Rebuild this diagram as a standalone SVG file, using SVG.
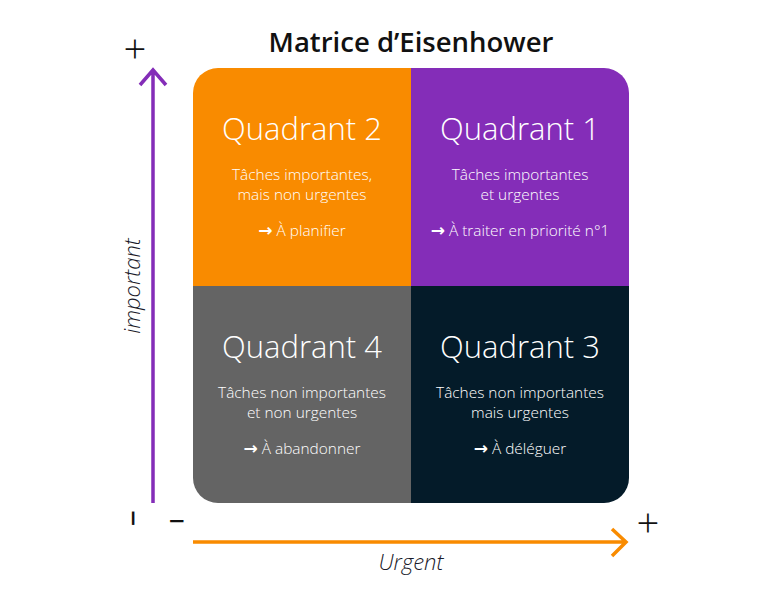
<svg xmlns="http://www.w3.org/2000/svg" width="768" height="605" viewBox="0 0 768 605">
<defs>
<style>
.t{font-family:"Open Sans","Liberation Sans",sans-serif;fill:#fff;text-anchor:middle}
.q{font-size:31px;font-weight:300}
.b{font-size:15.4px;font-weight:300}
.ar{font-family:"DejaVu Sans",sans-serif;font-weight:bold;font-size:17px}
.ax{font-family:"Open Sans","Liberation Sans",sans-serif;font-style:italic;font-size:22px;font-weight:300;fill:#1a1a2a;text-anchor:middle}
.sign{font-family:"Open Sans","Liberation Sans",sans-serif;font-size:40px;fill:#111;text-anchor:middle;font-weight:300}
.mn{font-family:"Open Sans","Liberation Sans",sans-serif;font-size:28px;fill:#111;text-anchor:middle;font-weight:600}
</style>
<clipPath id="m"><rect x="193" y="68" width="436" height="435" rx="25"/></clipPath>
</defs>
<rect width="768" height="605" fill="#fff"/>
<text x="411" y="52" font-family="'Open Sans','Liberation Sans',sans-serif" font-size="27.5" font-weight="600" fill="#111" text-anchor="middle">Matrice d’Eisenhower</text>
<g clip-path="url(#m)">
<g id="q2"><rect x="193" y="68" width="218" height="218" fill="#F98B00"/>
<text class="t q" x="302" y="140">Quadrant 2</text>
<text class="t b" x="302" y="180">Tâches importantes,</text>
<text class="t b" x="302" y="200">mais non urgentes</text>
<text class="t b" x="302" y="236"><tspan class="ar">→</tspan> À planifier</text></g>
<g id="q1"><rect x="411" y="68" width="218" height="218" fill="#842DB8"/>
<text class="t q" x="520" y="140">Quadrant 1</text>
<text class="t b" x="520" y="180">Tâches importantes</text>
<text class="t b" x="520" y="200">et urgentes</text>
<text class="t b" x="520" y="236"><tspan class="ar">→</tspan> À traiter en priorité n°1</text></g>
<g id="q4"><rect x="193" y="286" width="218" height="217" fill="#646464"/>
<text class="t q" x="302" y="358">Quadrant 4</text>
<text class="t b" x="302" y="398">Tâches non importantes</text>
<text class="t b" x="302" y="418">et non urgentes</text>
<text class="t b" x="302" y="454"><tspan class="ar">→</tspan> À abandonner</text></g>
<g id="q3"><rect x="411" y="286" width="218" height="217" fill="#041B29"/>
<text class="t q" x="520" y="358">Quadrant 3</text>
<text class="t b" x="520" y="398">Tâches non importantes</text>
<text class="t b" x="520" y="418">mais urgentes</text>
<text class="t b" x="520" y="454"><tspan class="ar">→</tspan> À déléguer</text></g>
</g>
<g id="connectors" fill="none" stroke-width="3.5">
<path d="M153 503 V70 M140 85 L153 70 L166 85" stroke="#842DB8"/>
<path d="M193 542 H625 M612 529 L626 542 L612 556" stroke="#F98B00"/>
</g>
<g id="labels">
<text class="ax" transform="translate(140 286) rotate(-90)">important</text>
<text class="ax" x="411" y="570">Urgent</text>
<text class="sign" x="135" y="63">+</text>
<text class="sign" x="648" y="537">+</text>
<text class="mn" x="177" y="531">−</text>
<text class="mn" transform="translate(134 518) rotate(-90)" y="9">−</text>
</g>
</svg>
